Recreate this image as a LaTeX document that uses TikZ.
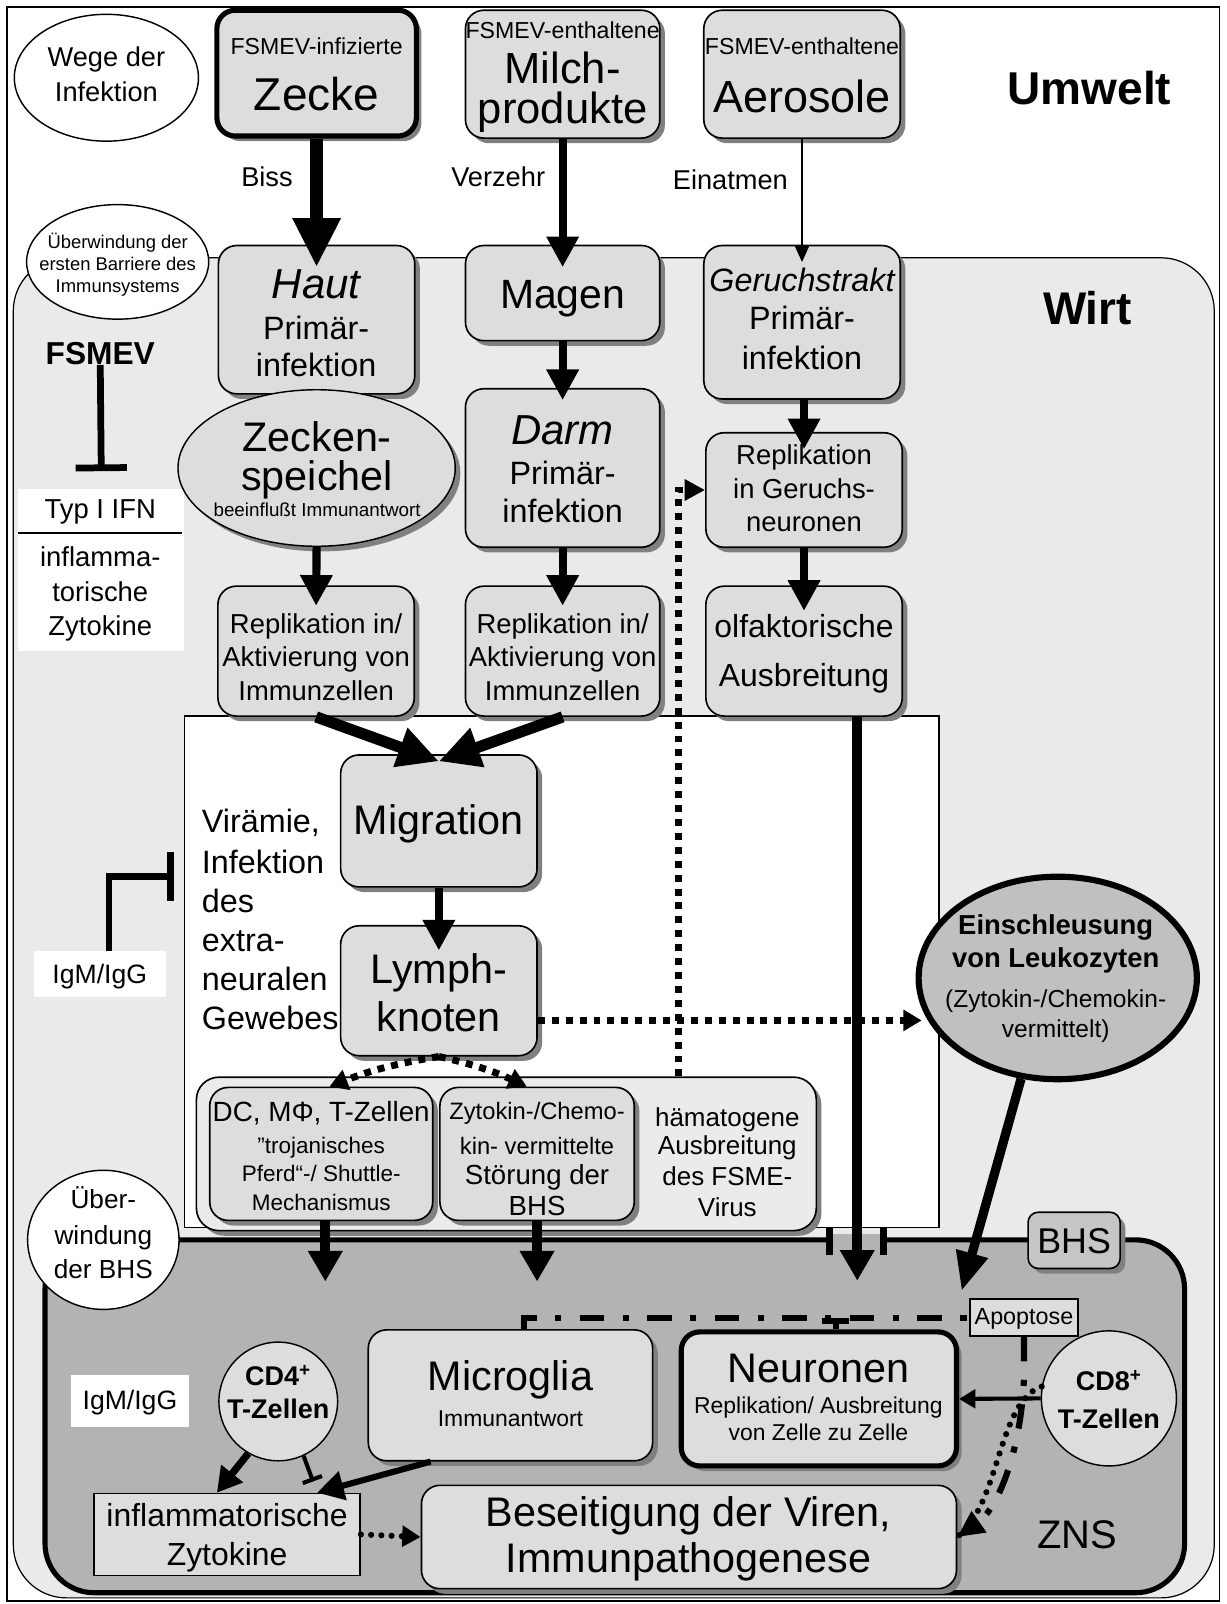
\documentclass[tikz,border=0pt]{standalone}
\usepackage{fontspec}
\setmainfont{Liberation Sans}
\usetikzlibrary{arrows.meta,shadows,shapes.geometric}
\definecolor{boxg}{HTML}{DDDDDD}
\definecolor{wirtg}{HTML}{EAEAEA}
\definecolor{lightg}{HTML}{EBEBEB}
\definecolor{znsg}{HTML}{B3B3B3}
\definecolor{einsg}{HTML}{C0C0C0}
\definecolor{bhsg}{HTML}{C6C6C6}
\definecolor{shad}{HTML}{808080}
\newcommand{\fsz}[1]{\fontsize{#1}{#1}\selectfont}
\newcounter{tlc}
\newcommand{\tlab}[4]{\stepcounter{tlc}\node[tl,font=#1] (tx\arabic{tlc}) at (#2,#3) {#4};}
\newcommand{\tlabw}[4]{\stepcounter{tlc}\node[tlw,font=#1] (tx\arabic{tlc}) at (#2,#3) {#4};}
\begin{document}
\begin{tikzpicture}[x=0.5pt,y=-0.5pt,
 bx/.style={draw, line width=0.8pt, rounded corners=9pt, fill=boxg, inner sep=0pt,
   drop shadow={shadow xshift=2.5pt, shadow yshift=-2.5pt, fill=shad, opacity=1}},
 thk/.style={line width=2.5pt},
 tl/.style={anchor=base, inner sep=0pt},
 tlw/.style={anchor=base west, inner sep=0pt},
 mar/.style={line width=4pt, -{Triangle[length=15pt,width=15pt]}},
 bigar/.style={line width=6.5pt, -{Triangle[length=24pt,width=22pt]}},
 dgar/.style={line width=5.5pt, -{Triangle[length=20pt,width=19pt]}},
 var/.style={line width=5pt, -{Triangle[length=15pt,width=16pt]}},
 ear/.style={line width=4.5pt, -{Triangle[length=19pt,width=15pt]}},
 thinar/.style={line width=0.8pt, -{Triangle[length=8pt,width=7pt]}},
 sqd/.style={line width=3.4pt, dash pattern=on 3.4pt off 3.4pt},
 rdots/.style={line width=3pt, line cap=round, dash pattern=on 0pt off 5pt},
 ddot/.style={line width=3pt, dash pattern=on 12pt off 9pt on 3pt off 9pt},
 inh/.style={line width=3.3pt},
 ell/.style={ellipse, draw, line width=0.7pt, fill=white, inner sep=0pt}
]
\useasboundingbox (0,0) rectangle (1199,1568);
% frames
\draw[line width=0.8pt, fill=white] (7,7) rectangle (1192,1565);
\draw[line width=0.6pt, fill=wirtg, rounded corners=26pt] (13,252) rectangle (1187,1562);
% umwelt boxes
\node[bx,thk,minimum width=97.5pt,minimum height=61.5pt] (zecke) at (309.5,71.5) {};
\node[bx,minimum width=95pt,minimum height=62.5pt] (milch) at (550,72.5) {};
\node[bx,minimum width=96pt,minimum height=62.5pt] (aero) at (784,72.5) {};
% white area
\draw[line width=0.6pt, fill=white] (180,700) rectangle (918,1200);
% ZNS
\draw[line width=2.5pt, fill=znsg, rounded corners=24pt] (44,1212) rectangle (1158,1557);
\fill[znsg] (814,1206) rectangle (861,1219);
\draw[line width=3.5pt] (811,1199) -- (811,1227);
\draw[line width=3.5pt] (864,1199) -- (864,1227);
% host boxes
\node[bx,minimum width=96pt,minimum height=72.5pt] (haut) at (309.5,312.5) {};
\node[bx,minimum width=95pt,minimum height=46.5pt] (magen) at (550,286.5) {};
\node[bx,minimum width=96pt,minimum height=75pt] (gtrakt) at (784,315) {};
\node[bx,minimum width=95pt,minimum height=77.5pt] (darm) at (550,457.5) {};
\node[bx,minimum width=96pt,minimum height=56pt] (grep) at (786,479) {};
\node[bx,minimum width=96pt,minimum height=63.5pt] (repa) at (309,636.5) {};
\node[bx,minimum width=95pt,minimum height=63.5pt] (repb) at (550,636.5) {};
\node[bx,minimum width=96pt,minimum height=63.5pt] (olf) at (786,636.5) {};
\node[bx,minimum width=96pt,minimum height=64.5pt] (migr) at (429,802.5) {};
\node[bx,minimum width=96pt,minimum height=63.5pt] (lymph) at (429,968.5) {};
\node[bx,fill=lightg,rounded corners=11pt,minimum width=303pt,minimum height=75pt] (grp) at (495,1128) {};
\node[bx,minimum width=109pt,minimum height=65pt] (dc) at (314,1128) {};
\node[bx,minimum width=95pt,minimum height=65pt] (zyt) at (525,1128) {};
\node[bx,fill=bhsg,rounded corners=5pt,minimum width=45pt,minimum height=27.5pt] (bhs) at (1050,1212.5) {};
\node[draw,line width=0.8pt,fill=boxg,minimum width=53pt,minimum height=18pt,inner sep=0pt] (apop) at (1001,1288) {};
\node[bx,minimum width=139pt,minimum height=64pt] (micro) at (499,1364) {};
\node[bx,line width=2.5pt,minimum width=134.5pt,minimum height=65.5pt] (neur) at (800.5,1367.5) {};
\node[draw,line width=0.8pt,fill=boxg,minimum width=130pt,minimum height=40pt,inner sep=0pt] (infl) at (222,1500) {};
\node[bx,minimum width=261.5pt,minimum height=50.5pt] (beseit) at (673.5,1502.5) {};
\node[fill=white,minimum width=81pt,minimum height=79pt,inner sep=0pt] (typ) at (99,557) {};
\draw[line width=1pt] (18,521) -- (178,521);
\node[fill=white,minimum width=64.5pt,minimum height=22.5pt,inner sep=0pt] (igma) at (97.5,952.5) {};
\node[fill=white,minimum width=58pt,minimum height=25.5pt,inner sep=0pt] (igmb) at (127,1369.5) {};
% ellipses and circles
\node[ell,minimum width=90pt,minimum height=62pt] (wege) at (104,76) {};
\node[ell,minimum width=89pt,minimum height=56pt] (uebA) at (115,256) {};
\node[ell,fill=boxg,drop shadow={shadow xshift=2.5pt, shadow yshift=-2.5pt, fill=shad, opacity=1},minimum width=135.5pt,minimum height=76.5pt] (zsp) at (309.5,457.5) {};
\node[ell,line width=3pt,fill=einsg,minimum width=136pt,minimum height=99pt] (eins) at (1034,956) {};
\node[ell,minimum width=74pt,minimum height=68pt] (uebB) at (101,1212) {};
\node[circle,draw,line width=0.7pt,fill=boxg,minimum size=58pt,inner sep=0pt] (cd4) at (272,1370) {};
\node[circle,draw,line width=0.7pt,fill=boxg,minimum size=66pt,inner sep=0pt] (cd8) at (1084,1367) {};
% FSMEV label
\node[tl,font=\bfseries\fsz{15.5pt}] (fsmev) at (98,356) {FSMEV};
% arrows
\draw[bigar] (zecke.south) -- ([yshift=-11pt]haut.north);
\draw[mar] (milch.south) -- ([yshift=-11pt]magen.north);
\draw[thinar] (aero.south) -- ([yshift=-8.5pt]gtrakt.north);
\draw[mar] (magen.south) -- ([yshift=-6pt]darm.north);
\draw[mar] (gtrakt.south -| grep.north) -- ([yshift=-8.5pt]grep.north);
\draw[mar] (zsp.south) -- ([yshift=-10pt]repa.north);
\draw[mar] (darm.south) -- ([yshift=-10pt]repb.north);
\draw[mar] (grep.south) -- ([yshift=-12.5pt]olf.north);
\draw[dgar] (repa.south) -- ([yshift=-3.5pt]migr.north);
\draw[dgar] (repb.south) -- ([yshift=-3.5pt]migr.north);
\draw[mar] (migr.south) -- ([yshift=-12.5pt]lymph.north);
\coordinate (znsA) at (838,1252);
\draw[var] ([xshift=26pt]olf.south) -- (znsA);
\draw[var] ([xshift=2pt]dc.south) -- ([xshift=2pt,yshift=-29.5pt]dc.south);
\draw[var] (zyt.south) -- ([yshift=-29.5pt]zyt.south);
\coordinate (znsC) at (940,1262);
\draw[ear] (eins.250) -- (znsC);
\coordinate (lyE) at ([yshift=-14.5pt]lymph.east);
\draw[sqd,-{Triangle[length=9pt,width=10pt]},shorten >=-3pt] (lyE) -- (lyE -| eins.west);
\draw[sqd,-{Triangle[length=10pt,width=10pt]}] ([xshift=84pt]grp.north) |- (grep.west);
\draw[sqd,-{Triangle[length=9pt,width=10pt]}] (lymph.south) to[bend right=6] ([xshift=4pt]dc.north);
\draw[sqd,-{Triangle[length=9pt,width=10pt]}] (lymph.south) to[bend left=6] ([xshift=-5pt]zyt.north);
\draw[line width=3.5pt,-{Triangle[length=12pt,width=13pt]}] (cd4.240) -- ([xshift=-5pt]infl.north);
\draw[line width=2pt,-{Bar[width=10pt]}] (cd4.295) -- ([xshift=42pt,yshift=5.5pt]infl.north);
\draw[line width=3pt,-{Triangle[length=13pt,width=14pt]}] ([xshift=-39pt]micro.south) -- ([xshift=44pt]infl.north);
\draw[rdots,-{Triangle[length=9pt,width=10pt]}] (infl.east) -- (beseit.west);
\draw[line width=2pt,-{Triangle[length=8pt,width=9pt]}] (cd8.west) -- (neur.east);
\draw[ddot] ([xshift=6.5pt]micro.north) |- (apop.west);
\coordinate (nst) at ([xshift=8.25pt]neur.north);
\draw[line width=3pt,-{Bar[width=13pt]}] (nst) -- (nst |- apop.west);
\draw[ddot,-{Triangle[length=13pt,width=12pt]}] (apop.south) -- ++(0,40) .. controls (998,1420) and (975,1475) .. (beseit.east);
\draw[rdots] (cd8.170) .. controls (975,1370) and (978,1470) .. (beseit.east);
\draw[inh,-{Bar[width=25pt]}] (fsmev.south) -- ([yshift=8.5pt]typ.north);
\coordinate (vir) at (170,857);
\draw[inh,-{Bar[width=24pt]}] ([xshift=4.5pt]igma.north) |- (vir);
% texts
\tlab{\fsz{11.3pt}}{309.5}{53}{FSMEV-infizierte}
\tlab{\fsz{22.5pt}}{309.5}{108}{Zecke}
\tlab{\fsz{11.3pt}}{550}{38}{FSMEV-enthaltene}
\tlab{\fsz{21.3pt}}{550}{82}{Milch-}
\tlab{\fsz{21.3pt}}{550}{121}{produkte}
\tlab{\fsz{11.3pt}}{784}{53}{FSMEV-enthaltene}
\tlab{\fsz{22pt}}{784}{110}{Aerosole}
\tlab{\bfseries\fsz{22.5pt}}{1065}{102}{Umwelt}
\tlab{\fsz{13.3pt}}{261}{182}{Biss}
\tlab{\fsz{13.3pt}}{487}{182}{Verzehr}
\tlab{\fsz{13.3pt}}{714}{185}{Einatmen}
\tlab{\fsz{13.3pt}}{104}{65}{Wege der}
\tlab{\fsz{13.3pt}}{104}{99}{Infektion}
\tlab{\bfseries\fsz{22.4pt}}{1063}{317}{Wirt}
\tlab{\fsz{9pt}}{115}{243}{Überwindung der}
\tlab{\fsz{9pt}}{115}{264}{ersten Barriere des}
\tlab{\fsz{9pt}}{115}{286}{Immunsystems}
\tlab{\itshape\fsz{20.5pt}}{309}{292}{Haut}
\tlab{\fsz{15.8pt}}{309}{332}{Primär-}
\tlab{\fsz{15.8pt}}{309}{368}{infektion}
\tlab{\fsz{20pt}}{550}{302}{Magen}
\tlab{\itshape\fsz{15.8pt}}{784}{285}{Geruchstrakt}
\tlab{\fsz{15.8pt}}{784}{322}{Primär-}
\tlab{\fsz{15.8pt}}{784}{361}{infektion}
\tlab{\fsz{13.4pt}}{98}{507}{Typ I IFN}
\tlab{\fsz{13.4pt}}{98}{554}{inflamma-}
\tlab{\fsz{13.4pt}}{98}{588}{torische}
\tlab{\fsz{13.4pt}}{98}{621}{Zytokine}
\tlab{\fsz{20.2pt}}{310}{441}{Zecken-}
\tlab{\fsz{20.2pt}}{310}{479}{speichel}
\tlab{\fsz{9.2pt}}{310}{505}{beeinflußt Immunantwort}
\tlab{\itshape\fsz{20.5pt}}{550}{435}{Darm}
\tlab{\fsz{15.8pt}}{550}{474}{Primär-}
\tlab{\fsz{15.8pt}}{550}{511}{infektion}
\tlab{\fsz{13.4pt}}{786}{454}{Replikation}
\tlab{\fsz{13.4pt}}{786}{487}{in Geruchs-}
\tlab{\fsz{13.4pt}}{786}{520}{neuronen}
\tlab{\fsz{13.4pt}}{309}{619}{Replikation in/}
\tlab{\fsz{13.4pt}}{309}{652}{Aktivierung von}
\tlab{\fsz{13.4pt}}{309}{685}{Immunzellen}
\tlab{\fsz{13.4pt}}{550}{619}{Replikation in/}
\tlab{\fsz{13.4pt}}{550}{652}{Aktivierung von}
\tlab{\fsz{13.4pt}}{550}{685}{Immunzellen}
\tlab{\fsz{15.6pt}}{786}{623}{olfaktorische}
\tlab{\fsz{15.6pt}}{786}{671}{Ausbreitung}
\tlab{\fsz{20.2pt}}{429}{816}{Migration}
\tlab{\fsz{20.2pt}}{429}{961}{Lymph-}
\tlab{\fsz{20.2pt}}{429}{1008}{knoten}
\tlabw{\fsz{15.8pt}}{197}{814}{Virämie,}
\tlabw{\fsz{15.8pt}}{197}{854}{Infektion}
\tlabw{\fsz{15.8pt}}{197}{892}{des}
\tlabw{\fsz{15.8pt}}{197}{930}{extra-}
\tlabw{\fsz{15.8pt}}{197}{968}{neuralen}
\tlabw{\fsz{15.8pt}}{197}{1006}{Gewebes}
\tlab{\fsz{13pt}}{97.5}{961}{IgM/IgG}
\tlab{\bfseries\fsz{13.4pt}}{1032}{914}{Einschleusung}
\tlab{\bfseries\fsz{13.4pt}}{1032}{946}{von Leukozyten}
\tlab{\fsz{12pt}}{1032}{985}{(Zytokin-/Chemokin-}
\tlab{\fsz{12pt}}{1032}{1014}{vermittelt)}
\tlab{\fsz{13.6pt}}{314}{1096}{DC, MΦ, T-Zellen}
\tlab{\fsz{11pt}}{314}{1128}{”trojanisches}
\tlab{\fsz{11pt}}{314}{1155}{Pferd“-/ Shuttle-}
\tlab{\fsz{11pt}}{314}{1183}{Mechanismus}
\tlab{\fsz{11.6pt}}{525}{1094}{Zytokin-/Chemo-}
\tlab{\fsz{11.6pt}}{525}{1129}{kin- vermittelte}
\tlab{\fsz{13.5pt}}{525}{1158}{Störung der}
\tlab{\fsz{13.5pt}}{525}{1188}{BHS}
\tlab{\fsz{12.7pt}}{711}{1101}{hämatogene}
\tlab{\fsz{12.7pt}}{711}{1129}{Ausbreitung}
\tlab{\fsz{12.7pt}}{711}{1159}{des FSME-}
\tlab{\fsz{12.7pt}}{711}{1189}{Virus}
\tlab{\fsz{12.8pt}}{101}{1181}{Über-}
\tlab{\fsz{12.8pt}}{101}{1217}{windung}
\tlab{\fsz{12.8pt}}{101}{1250}{der BHS}
\tlab{\fsz{17.5pt}}{1050}{1225}{BHS}
\tlab{\fsz{11.4pt}}{1001}{1295}{Apoptose}
\tlab{\fsz{20.2pt}}{499}{1359}{Microglia}
\tlab{\fsz{11.2pt}}{499}{1394}{Immunantwort}
\tlab{\fsz{20.2pt}}{800}{1351}{Neuronen}
\tlab{\fsz{11.2pt}}{800}{1382}{Replikation/ Ausbreitung}
\tlab{\fsz{11.2pt}}{800}{1408}{von Zelle zu Zelle}
\tlab{\bfseries\fsz{13.2pt}}{272}{1354}{CD4\textsuperscript{+}}
\tlab{\bfseries\fsz{13.2pt}}{272}{1387}{T-Zellen}
\tlab{\bfseries\fsz{13.2pt}}{1084}{1359}{CD8\textsuperscript{+}}
\tlab{\bfseries\fsz{13.2pt}}{1084}{1396}{T-Zellen}
\tlab{\fsz{13pt}}{127}{1378}{IgM/IgG}
\tlab{\fsz{15.6pt}}{222}{1492}{inflammatorische}
\tlab{\fsz{15.6pt}}{222}{1530}{Zytokine}
\tlab{\fsz{20.2pt}}{673}{1492}{Beseitigung der Viren,}
\tlab{\fsz{20.2pt}}{673}{1537}{Immunpathogenese}
\tlab{\fsz{19.5pt}}{1053}{1514}{ZNS}
\end{tikzpicture}
\end{document}
